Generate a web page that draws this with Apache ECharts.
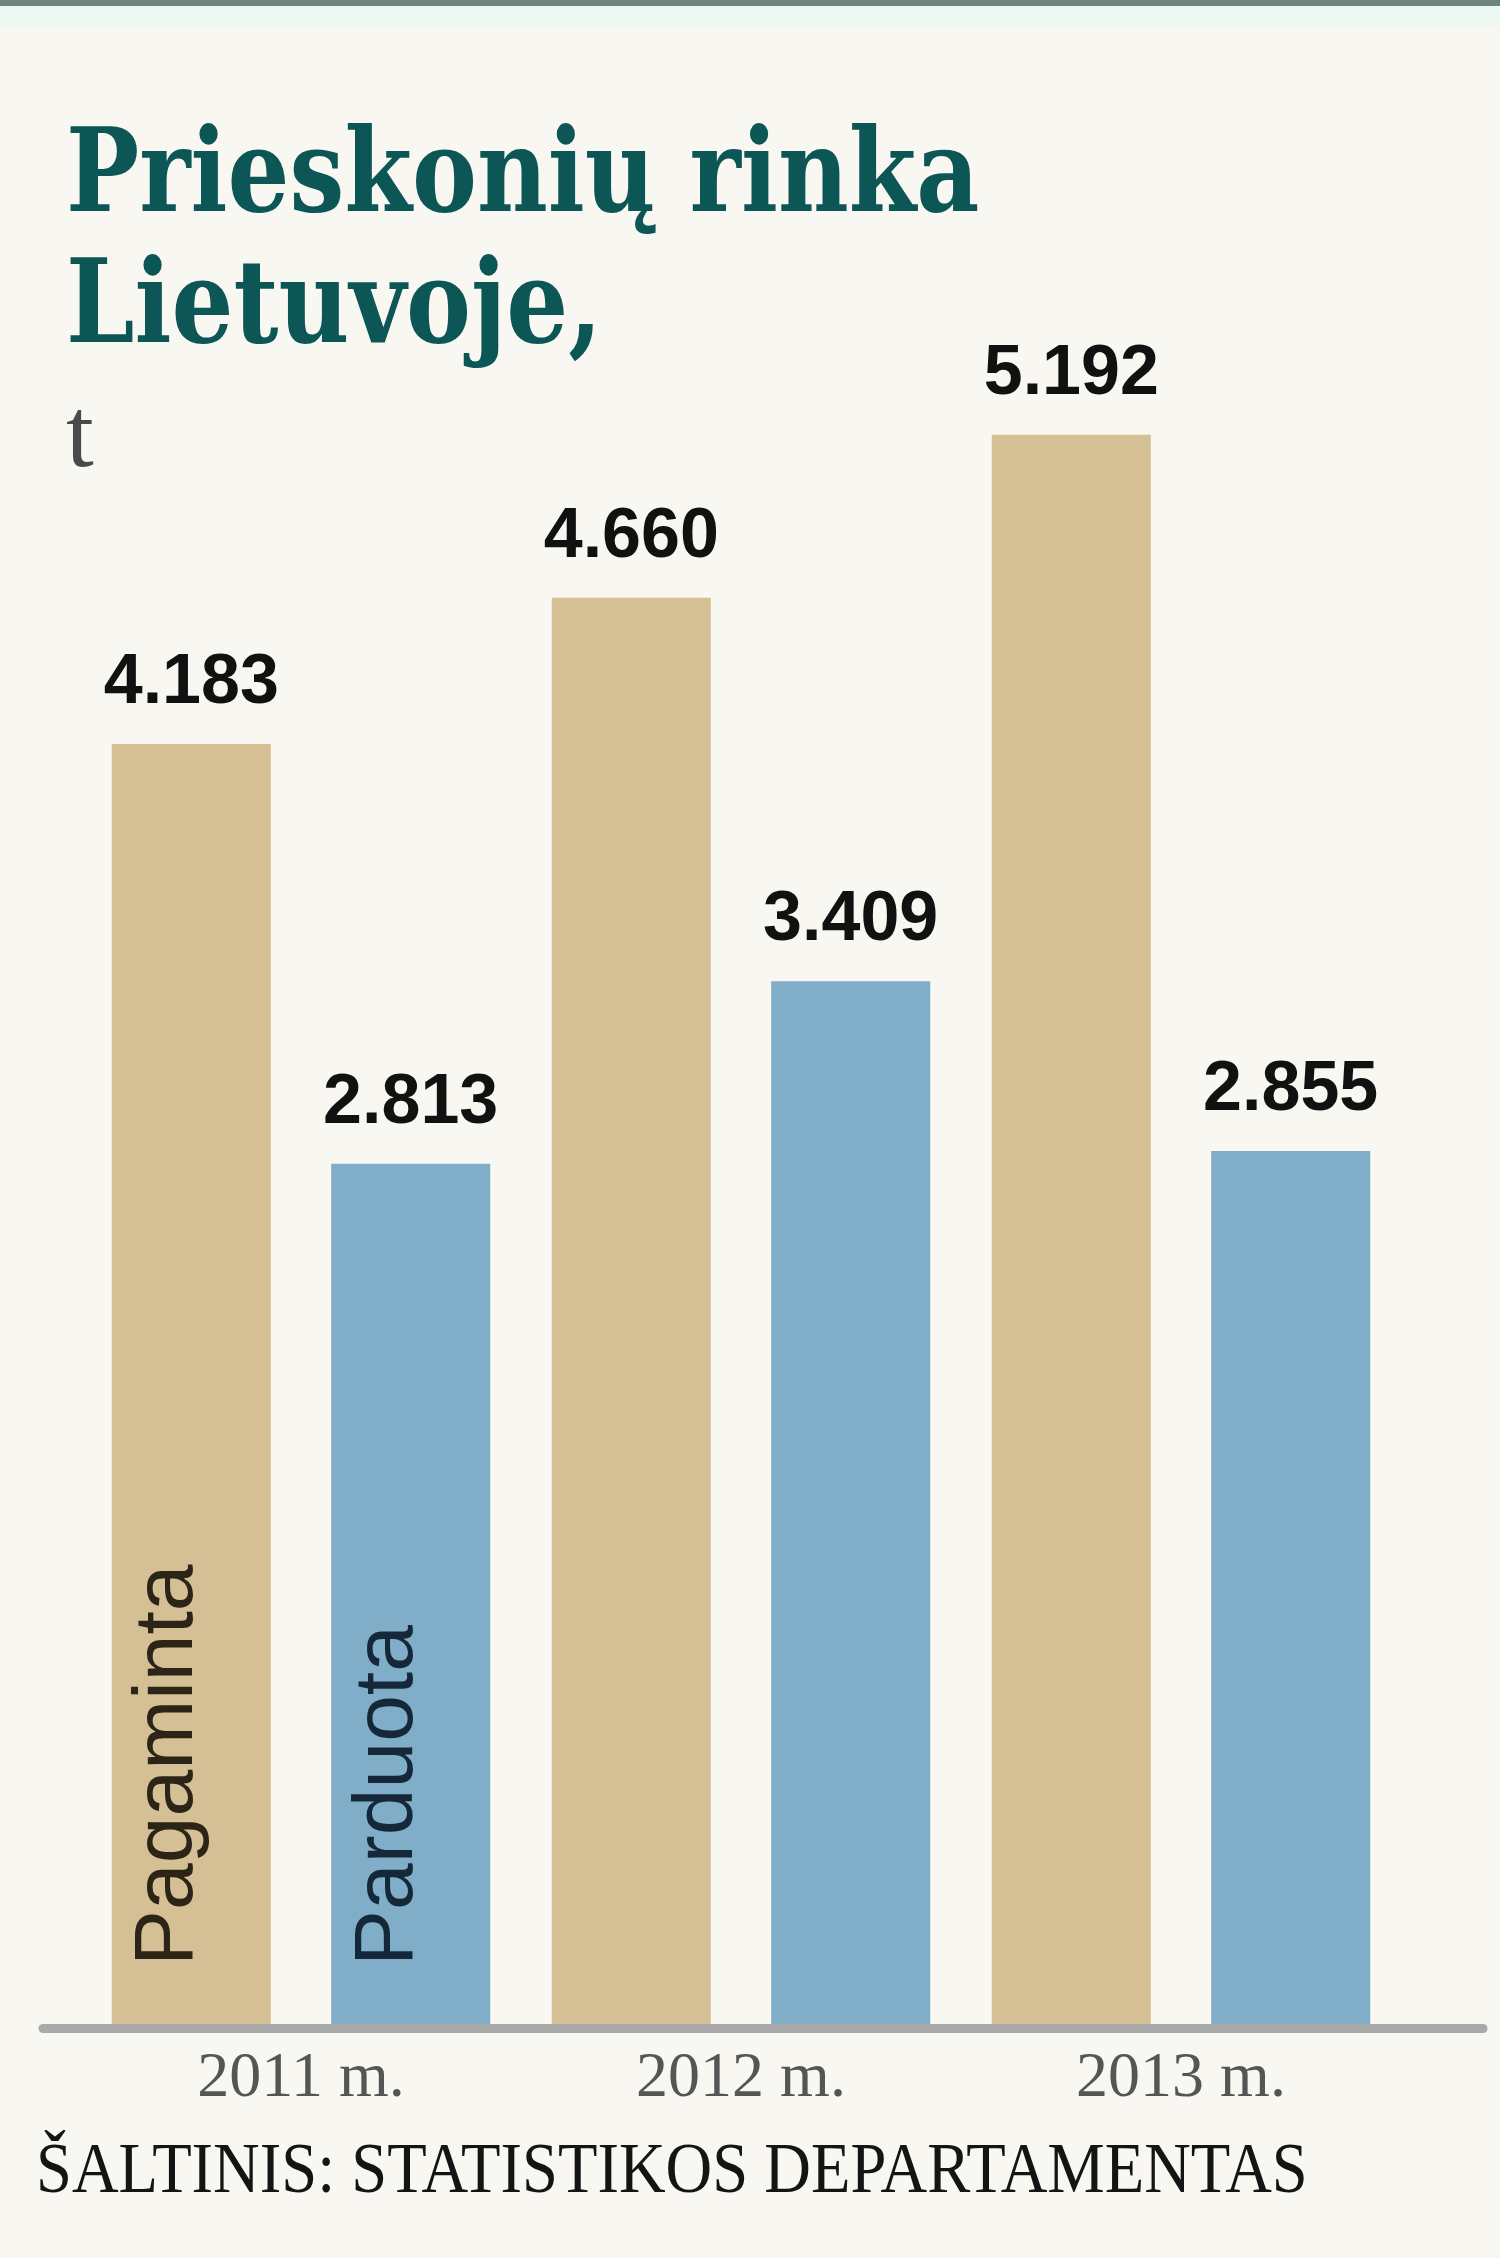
<!DOCTYPE html>
<html>
<head>
<meta charset="utf-8">
<title>Prieskonių rinka Lietuvoje</title>
<script src="https://cdn.jsdelivr.net/npm/echarts@6/dist/echarts.min.js"></script>
<style>
  html, body { margin: 0; padding: 0; background: #f8f7f1; }
  #chart { width: 1500px; height: 2258px; }
</style>
</head>
<body>
<div id="chart"></div>
<script>
// duomenys, t
const years = ["2011 m.", "2012 m.", "2013 m."];
const pagaminta = [4183, 4660, 5192];
const parduota = [2813, 3409, 2855];
const seriesNames = ["Pagaminta", "Parduota"];

const tan = "#d5c095";
const blue = "#80aec8";

// 4183 -> "4.183"
function fmt(v) {
  return String(v).replace(/\B(?=(\d{3})+(?!\d))/g, ".");
}

const valueLabel = {
  show: true,
  position: "top",
  distance: 25,
  fontFamily: "Liberation Sans",
  fontWeight: "bold",
  fontSize: 70,
  color: "#111",
  formatter: p => fmt(p.value)
};

// name written upright inside the first bar of each series
function nameData(values, name) {
  return values.map((v, i) => ({
    value: v,
    label: { show: i === 0, formatter: name }
  }));
}

const nameLabel = {
  position: "insideBottom",
  rotate: 90,
  align: "left",
  verticalAlign: "middle",
  distance: 60,
  offset: [0, -22],
  fontFamily: "Liberation Sans",
  fontSize: 84
};

const barWidth = 159;
const barGap = "38%";

const chart = echarts.init(document.getElementById("chart"));

chart.setOption({
  backgroundColor: "#f8f7f1",
  animation: false,
  graphic: [
    { type: "rect", shape: { x: 0, y: 0, width: 1500, height: 6 }, style: { fill: "#6e847f" } },
    { type: "rect", shape: { x: 0, y: 6, width: 1500, height: 21 }, style: { fill: "#edf8f3" } },
    {
      type: "text", x: 66, y: 123, scaleX: 0.84,
      style: { text: "Prieskonių rinka", font: "bold 116px 'DejaVu Serif'", fill: "#0c5656", verticalAlign: "top" }
    },
    {
      type: "text", x: 66, y: 254, scaleX: 0.84,
      style: { text: "Lietuvoje,", font: "bold 116px 'DejaVu Serif'", fill: "#0c5656", verticalAlign: "top" }
    },
    {
      type: "text", x: 66, y: 390,
      style: { text: "t", font: "100px 'Liberation Serif'", fill: "#4a4a4a", verticalAlign: "top" }
    },
    {
      type: "text", x: 36, y: 2138, scaleX: 0.91,
      style: { text: "ŠALTINIS: STATISTIKOS DEPARTAMENTAS", font: "71px 'Liberation Serif'", fill: "#141414", verticalAlign: "top" }
    }
  ],
  grid: [
    { left: 81, right: 99, top: 187, bottom: 232 },
    { left: 43, right: 17, bottom: 230, height: 10 },
    { left: 81, right: 99, top: 187, bottom: 232 }
  ],
  xAxis: [
    {
      type: "category",
      gridIndex: 0,
      data: years,
      axisLine: { show: false },
      axisTick: { show: false },
      axisLabel: {
        margin: 21,
        fontFamily: "Liberation Serif",
        fontSize: 64,
        color: "#555"
      }
    },
    {
      // baseline rule, longer than the bar area
      type: "value",
      gridIndex: 1,
      min: 0,
      max: 1,
      z: 5,
      axisLine: { show: true, lineStyle: { color: "#a9a9a9", width: 9 } },
      axisTick: { show: false },
      axisLabel: { show: false },
      splitLine: { show: false }
    },
    {
      type: "category",
      gridIndex: 2,
      data: years,
      show: false
    }
  ],
  yAxis: [
    { type: "value", gridIndex: 0, min: 0, max: 6000, show: false, splitLine: { show: false } },
    { type: "value", gridIndex: 1, show: false, splitLine: { show: false } },
    { type: "value", gridIndex: 2, min: 0, max: 6000, show: false, splitLine: { show: false } }
  ],
  series: [
    {
      name: seriesNames[0],
      type: "bar",
      xAxisIndex: 0,
      yAxisIndex: 0,
      barWidth: barWidth,
      barGap: barGap,
      itemStyle: { color: tan },
      label: valueLabel,
      data: pagaminta
    },
    {
      name: seriesNames[1],
      type: "bar",
      xAxisIndex: 0,
      yAxisIndex: 0,
      barWidth: barWidth,
      barGap: barGap,
      itemStyle: { color: blue },
      label: valueLabel,
      data: parduota
    },
    {
      name: seriesNames[0] + " label",
      type: "bar",
      xAxisIndex: 2,
      yAxisIndex: 2,
      silent: true,
      z: 4,
      barWidth: barWidth,
      barGap: barGap,
      itemStyle: { color: "rgba(0,0,0,0)" },
      label: Object.assign({ color: "#2b2417" }, nameLabel),
      data: nameData(pagaminta, seriesNames[0])
    },
    {
      name: seriesNames[1] + " label",
      type: "bar",
      xAxisIndex: 2,
      yAxisIndex: 2,
      silent: true,
      z: 4,
      barWidth: barWidth,
      barGap: barGap,
      itemStyle: { color: "rgba(0,0,0,0)" },
      label: Object.assign({ color: "#15283a" }, nameLabel),
      data: nameData(parduota, seriesNames[1])
    }
  ]
});
</script>
</body>
</html>
